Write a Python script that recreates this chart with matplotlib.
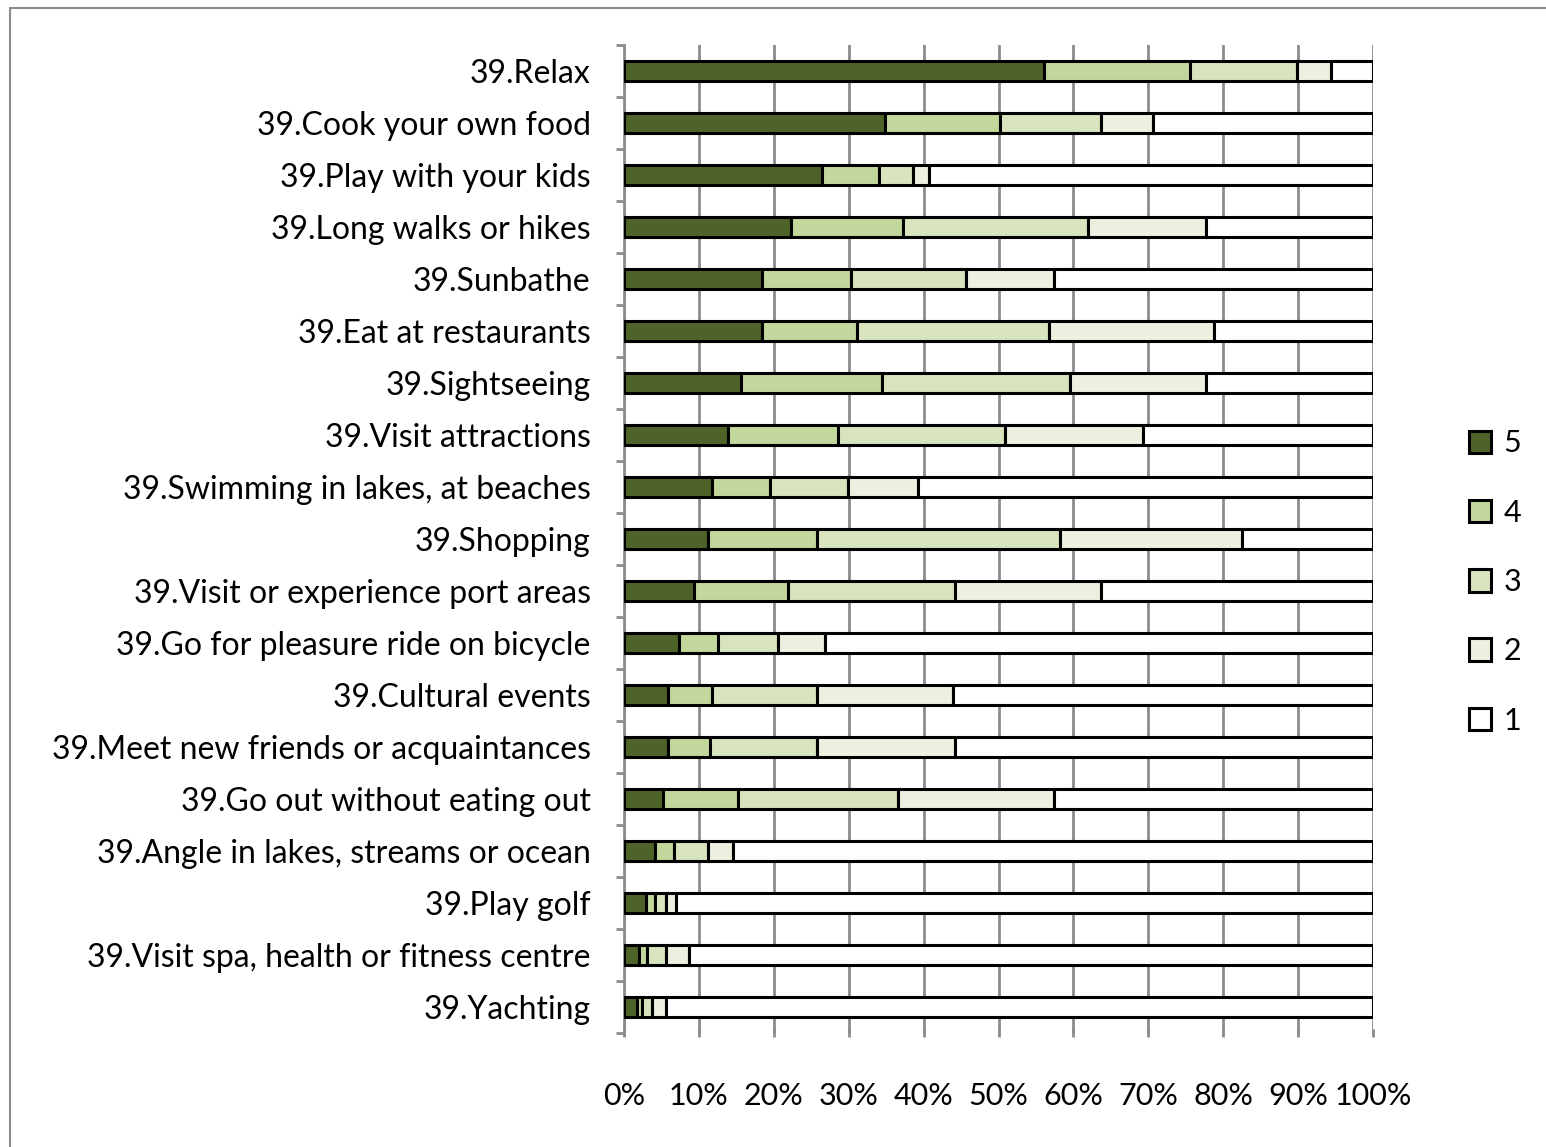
import matplotlib
matplotlib.use("Agg")
import matplotlib.pyplot as plt
from matplotlib.patches import Rectangle
import numpy as np

categories = [
    "39.Relax", "39.Cook your own food", "39.Play with your kids",
    "39.Long walks or hikes", "39.Sunbathe", "39.Eat at restaurants",
    "39.Sightseeing", "39.Visit attractions", "39.Swimming in lakes, at beaches",
    "39.Shopping", "39.Visit or experience port areas",
    "39.Go for pleasure ride on bicycle", "39.Cultural events",
    "39.Meet new friends or acquaintances", "39.Go out without eating out",
    "39.Angle in lakes, streams or ocean", "39.Play golf",
    "39.Visit spa, health or fitness centre", "39.Yachting",
]
s5 = [56.1, 34.8, 26.4, 22.3, 18.4, 18.4, 15.6, 13.9, 11.7, 11.2, 9.3, 7.3, 5.9, 5.9, 5.2, 4.1, 3.0, 2.0, 1.7]
s4 = [19.5, 15.4, 7.6, 14.9, 11.9, 12.7, 18.8, 14.7, 7.8, 14.6, 12.6, 5.3, 5.8, 5.6, 10.0, 2.6, 1.1, 1.1, 0.7]
s3 = [14.3, 13.5, 4.6, 24.7, 15.4, 25.6, 25.1, 22.3, 10.4, 32.4, 22.3, 8.0, 14.1, 14.3, 21.4, 4.5, 1.5, 2.5, 1.4]
s2 = [4.5, 6.9, 2.1, 15.8, 11.7, 22.1, 18.2, 18.4, 9.4, 24.3, 19.5, 6.2, 18.1, 18.4, 20.8, 3.4, 1.4, 3.1, 1.8]
s1 = [5.6, 29.4, 59.3, 22.3, 42.6, 21.2, 22.3, 30.7, 60.7, 17.5, 36.3, 73.2, 56.1, 55.8, 42.6, 85.4, 93.0, 91.3, 94.4]
series_names = ["5", "4", "3", "2", "1"]
colors = ["#4F6228", "#C3D69B", "#D7E4BD", "#EBF1DE", "#FFFFFF"]
xticks = [0, 10, 20, 30, 40, 50, 60, 70, 80, 90, 100]

plt.rcParams['font.family'] = ['Lato', 'DejaVu Sans']

fig = plt.figure(figsize=(15.46, 11.47), dpi=100)
W, H = 1546, 1147
ax = fig.add_axes([624 / W, 1 - 1033 / H, (1373 - 624) / W, (1033 - 45) / H])

# outer frame
fig.patches.append(Rectangle((10 / W, -0.01), 1.0, 1 - 8 / H + 0.01, transform=fig.transFigure,
                             fill=False, edgecolor="#8C8C8C", linewidth=1.5))

data = np.array([s5, s4, s3, s2, s1])
tot = data.sum(axis=0)
data = data / tot * 100
y = np.arange(len(categories))
left = np.zeros(len(categories))
handles = []
for vals, name, c in zip(data, series_names, colors):
    b = ax.barh(y, vals, left=left, height=0.4, color=c, edgecolor="black", linewidth=2.2,
                label=name, zorder=3)
    handles.append(b)
    left += vals

ax.set_ylim(len(categories) - 0.5, -0.5)
ax.set_xlim(0, 100)
ax.set_xticks(xticks)
ax.set_xticklabels([f"{t}%" for t in xticks], fontsize=22)
ax.set_yticks(y)
ax.set_yticklabels(categories, fontsize=23)
ax.tick_params(axis="y", length=0, pad=24)
ax.tick_params(axis="x", length=6, color="#8C8C8C", width=2, pad=32, direction="inout")
ax.set_yticks(np.arange(-0.5, len(categories) + 0.5, 1), minor=True)
ax.tick_params(axis="y", which="minor", length=6, color="#8C8C8C", width=2)
ax.grid(axis="x", color="#8C8C8C", linewidth=2, zorder=0)
for s in ["top", "right", "bottom"]:
    ax.spines[s].set_visible(False)
ax.spines["left"].set_color("#8C8C8C")
ax.spines["left"].set_linewidth(2)

leg = fig.legend(handles, series_names, loc="center left", bbox_to_anchor=(1441 / W, 1 - 582 / H),
                 frameon=False, fontsize=22, handlelength=0.75, handleheight=0.75,
                 labelspacing=1.35, handletextpad=0.4)

fig.savefig("out.png", dpi=100)
